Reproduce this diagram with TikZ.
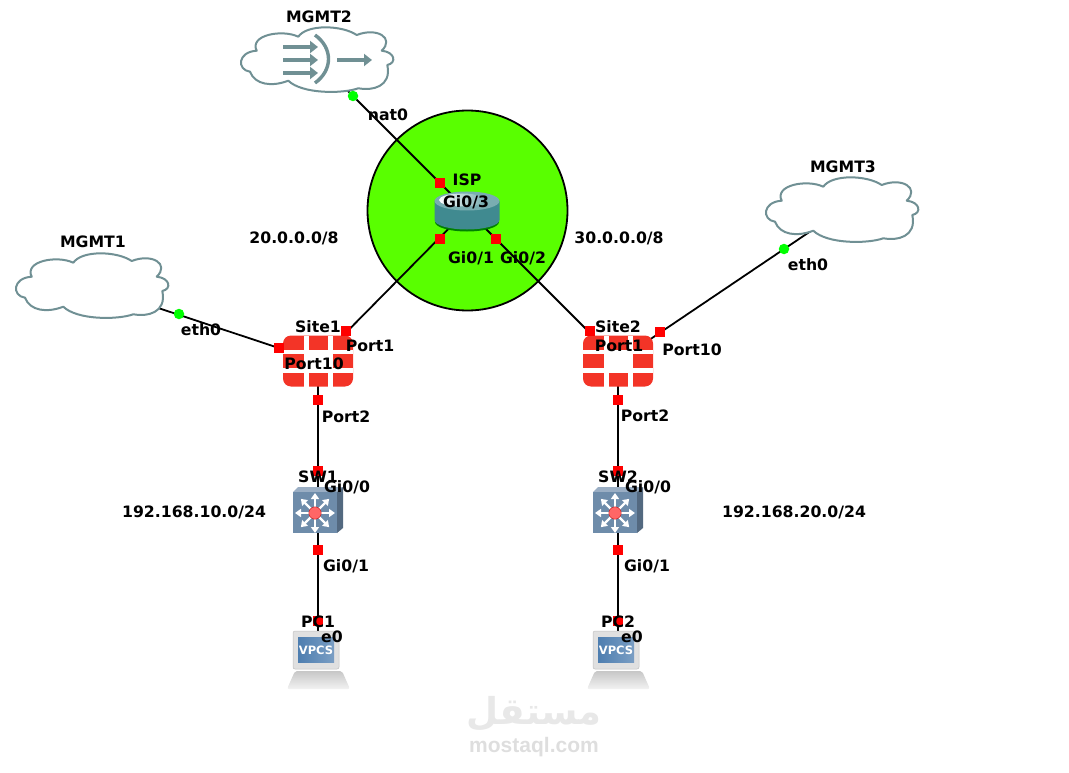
\documentclass[tikz,border=0pt]{standalone}
\usepackage{fontspec}
\setmainfont{DejaVu Sans}
\newfontfamily\arabicfont[Script=Arabic]{DejaVu Sans}
\newfontfamily\markfont{Liberation Sans}
\TeXXeTstate=1
\usetikzlibrary{arrows.meta}
\definecolor{ispgreen}{RGB}{89, 255, 0}
\definecolor{cloudgrey}{RGB}{112, 144, 148}
\definecolor{fwred}{RGB}{243, 52, 39}
\definecolor{swblue}{RGB}{110, 140, 170}
\definecolor{rtteal}{RGB}{64, 138, 144}
\definecolor{pcblue}{RGB}{78, 126, 176}
\tikzset{
  lbl/.style = {font=\bfseries\fontsize{15.7}{18}\selectfont, inner sep=0pt, text height=11.4pt, text depth=0pt, yshift=-0.7pt},
  link/.style = {line width=1.8pt, black},
  redport/.style = {fill=red, inner sep=0pt, minimum size=10pt},
  greenport/.style = {circle, fill=green, inner sep=0pt, minimum size=10.5pt},
  cloudicon/.pic = {
    \filldraw [fill=white, draw=cloudgrey, line width=2pt, line join=round]
      (-28.7, 20.7) .. controls (-45, 27) and (-62, 25) .. (-67, 11.7)
      .. controls (-80, 10) and (-80, -8) .. (-60.3, -9.3)
      .. controls (-68, -25) and (-35, -31) .. (-18.7, -23.3)
      .. controls (-10, -36) and (25, -35) .. (39.7, -25)
      .. controls (60, -33) and (78, -22) .. (64.7, -9.3)
      .. controls (78, -8) and (80, 3) .. (70.3, 5)
      .. controls (75, 27) and (55, 31) .. (41.3, 28.3)
      .. controls (25, 34) and (-15, 34) .. (-28.7, 20.7) -- cycle;
  },
  firewallicon/.pic = {
    \fill [fwred, rounded corners=8pt] (-35, -25.5) rectangle (35, 25.5);
    \fill [white] (-35, -11) rectangle (35, -7);
    \fill [white] (-35, 7) rectangle (35, 12);
    \fill [white] (-14, -25.5) rectangle (-9, 25.5);
    \fill [white] (10, -25.5) rectangle (15, 25.5);
    \fill [white] (-9, -7) rectangle (10, 7);
  },
  switchicon/.pic = {
    \fill [swblue!70!white] (-25, -20) -- (-20, -25) -- (25, -25) -- (19, -20) -- cycle;
    \fill [swblue!75!black] (19, -20) -- (25, -25) -- (25, 16) -- (19, 21) -- cycle;
    \fill [swblue] (-25, -20) rectangle (19, 21);
    \foreach \ang in {0, 45, ..., 315}
      \draw [white, line width=2.4pt, -{Triangle[length=6pt, width=8pt]}]
        (-3, 1) -- ++(\ang:20);
    \fill [red!60!white, draw=red!75!black, line width=0.3pt] (-3, 1) circle (6.2);
  },
  routericon/.pic = {
    \fill [green!50!black] (-32, 12) arc (180:0:32 and 9.5) -- cycle;
    \fill [rtteal] (-32.5, -9) -- (-32.5, 10) arc (180:0:32.5 and 9.5) -- (32.5, -9) -- cycle;
    \fill [rtteal!70!white] (0, -9) ellipse (32.5 and 9.5);
    \shade [left color=white, right color=rtteal!70!white] (-5, -10) ellipse (23 and 6.5);
  },
  pcicon/.pic = {
    \shade [top color=black!22, bottom color=black!5, rounded corners=2pt]
      (-31, 29) -- (-23, 11) -- (24, 11) -- (32, 29) -- cycle;
    \fill [black!12, draw=black!25, line width=0.5pt, rounded corners=2pt] (-25, -29) rectangle (21, 9);
    \shade [left color=pcblue, right color=pcblue!75!white] (-20, -23) rectangle (16, 2);
    \node [font=\bfseries\fontsize{11.5}{12}\selectfont, text=white, inner sep=0pt] at (-2, -10) {VPCS};
  },
  natsign/.pic = {
    \foreach \yy in {-13, 0, 13}
      \draw [cloudgrey, line width=4pt, -{Triangle[length=8pt, width=12pt]}] (-34, \yy) -- (1, \yy);
    \draw [cloudgrey, line width=4pt, -{Triangle[length=8pt, width=12pt]}] (20, 0) -- (55, 0);
    \draw [cloudgrey, line width=3.4pt] (-2, -25) .. controls (16, -12) and (16, 10) .. (-2, 23);
  }
}

\begin{document}
\begin{tikzpicture}[x=1pt, y=-1pt]
    \useasboundingbox (0, 0) rectangle (1069, 773);

    \fill [ispgreen, draw=black, line width=1.8pt] (467.5, 210.5) circle (100);

    \coordinate (isp) at (467, 210);
    \coordinate (site1) at (318, 361);
    \coordinate (site2) at (618, 361);
    \coordinate (sw1) at (318, 512);
    \coordinate (sw2) at (618, 512);
    \coordinate (pc1) at (318, 650);
    \coordinate (pc2) at (618, 650);
    \coordinate (mgmt1) at (92, 286);
    \coordinate (mgmt2) at (317, 60);
    \coordinate (mgmt3) at (842, 210);

    \draw [link] (mgmt2) -- (isp);
    \draw [link] (isp) -- (site1);
    \draw [link] (isp) -- (site2);
    \draw [link] (mgmt1) -- (site1);
    \draw [link] (mgmt3) -- (site2);
    \draw [link] (site1) -- (sw1);
    \draw [link] (site2) -- (sw2);
    \draw [link] (sw1) -- (pc1);
    \draw [link] (sw2) -- (pc2);

    \pic at (mgmt1) {cloudicon};
    \pic at (mgmt2) {cloudicon};
    \pic at (mgmt3) {cloudicon};
    \pic at (mgmt2) {natsign};
    \pic at (isp) {routericon};
    \pic at (site1) {firewallicon};
    \pic at (site2) {firewallicon};
    \pic at (sw1) {switchicon};
    \pic at (sw2) {switchicon};
    \pic at (318, 660) {pcicon};
    \pic at (618, 660) {pcicon};

    \node [greenport] (nat0) at (353, 96) {};
    \node [greenport] (eth1) at (179, 314) {};
    \node [greenport] (eth3) at (784, 249) {};
    \node [redport] (ispg3) at (440, 183) {};
    \node [redport] (ispg1) at (440, 239) {};
    \node [redport] (ispg2) at (496, 239) {};
    \node [redport] (s1p1) at (346, 331) {};
    \node [redport] (s1p10) at (279, 348) {};
    \node [redport] (s1p2) at (318, 400) {};
    \node [redport] (s2p1) at (590, 331) {};
    \node [redport] (s2p10) at (660, 332) {};
    \node [redport] (s2p2) at (618, 400) {};
    \node [redport] (sw1g0) at (318, 471) {};
    \node [redport] (sw1g1) at (318, 550) {};
    \node [redport] (sw2g0) at (618, 471) {};
    \node [redport] (sw2g1) at (618, 550) {};
    \node [redport] (pc1e0) at (318, 621) {};
    \node [redport] (pc2e0) at (618, 621) {};

    \node [lbl] (lmgmt1) at (93, 241) {MGMT1};
    \node [lbl] (lmgmt2) at (319, 16) {MGMT2};
    \node [lbl] (lmgmt3) at (843, 166) {MGMT3};
    \node [lbl] (lisp) at (467, 179) {ISP};
    \node [lbl] (lnat) at (388, 114) {nat0};
    \node [lbl] (lg3) at (466, 201) {Gi0/3};
    \node [lbl] (lg1) at (471, 257) {Gi0/1};
    \node [lbl] (lg2) at (523, 257) {Gi0/2};
    \node [lbl] (lnet2) at (294, 237) {20.0.0.0/8};
    \node [lbl] (lnet3) at (619, 237) {30.0.0.0/8};
    \node [lbl] (leth1) at (201, 329) {eth0};
    \node [lbl] (leth3) at (808, 264) {eth0};
    \node [lbl] (lsite1) at (318, 326) {Site1};
    \node [lbl] (lsite2) at (618, 326) {Site2};
    \node [lbl] (ls1p1) at (370, 345) {Port1};
    \node [lbl] (ls1p10) at (314, 363) {Port10};
    \node [lbl] (ls2p1) at (619, 345) {Port1};
    \node [lbl] (ls2p10) at (692, 349) {Port10};
    \node [lbl] (ls1p2) at (346, 416) {Port2};
    \node [lbl] (ls2p2) at (645, 415) {Port2};
    \node [lbl] (lsw1) at (318, 476) {SW1};
    \node [lbl] (lsw2) at (618, 476) {SW2};
    \node [lbl] (ls1g0) at (347, 486) {Gi0/0};
    \node [lbl] (ls2g0) at (648, 486) {Gi0/0};
    \node [lbl] (lnet10) at (194, 511) {192.168.10.0/24};
    \node [lbl] (lnet20) at (794, 511) {192.168.20.0/24};
    \node [lbl] (ls1g1) at (346, 565) {Gi0/1};
    \node [lbl] (ls2g1) at (647, 565) {Gi0/1};
    \node [lbl] (lpc1) at (318, 621) {PC1};
    \node [lbl] (lpc2) at (618, 621) {PC2};
    \node [lbl] (le1) at (332, 636) {e0};
    \node [lbl] (le2) at (632, 636) {e0};

    % watermark
    \node [inner sep=0pt, text=black!9, font=\arabicfont\bfseries\fontsize{37}{40}\selectfont] (markar) at (534, 714) {\beginR مستقل\endR};
    \node [inner sep=0pt, text=black!13, font=\markfont\bfseries\fontsize{21}{24}\selectfont] (markla) at (534, 747) {mostaql.com};
\end{tikzpicture}
\end{document}
